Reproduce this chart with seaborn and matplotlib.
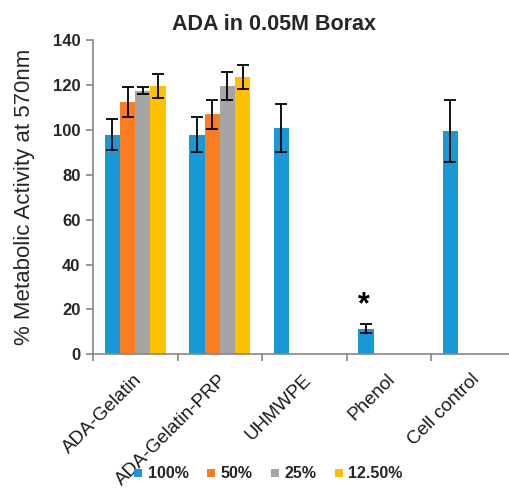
import numpy as np
import pandas as pd
import seaborn as sns
import matplotlib
matplotlib.use("Agg")
import matplotlib.pyplot as plt
from matplotlib.lines import Line2D
from matplotlib.transforms import ScaledTranslation

# Sample groups and dilution levels
categories = ["ADA-Gelatin", "ADA-Gelatin-PRP", "UHMWPE", "Phenol", "Cell control"]
levels = ["100%", "50%", "25%", "12.50%"]

# Mean metabolic activity (%) per dilution; None = not tested
act_100 = [98.0, 98.0, 101.0, 11.5, 99.5]
act_50 = [112.5, 107.0, None, None, None]
act_25 = [117.5, 119.5, None, None, None]
act_12 = [119.5, 123.5, None, None, None]

# Standard deviations
err_100 = [7.0, 8.0, 10.6, 2.0, 13.7]
err_50 = [6.5, 6.5, None, None, None]
err_25 = [1.5, 6.3, None, None, None]
err_12 = [5.3, 5.3, None, None, None]

# Significance marker (group, height)
star_group = "Phenol"
star_y = 22.0

colors = ["#1899D6", "#FA7D22", "#A5A5A5", "#FFC000"]

rows = []
for lvl, vals, errs in zip(levels, [act_100, act_50, act_25, act_12],
                           [err_100, err_50, err_25, err_12]):
    for cat, v, e in zip(categories, vals, errs):
        if v is not None:
            rows.append({"group": cat, "dilution": lvl, "activity": v, "sd": e})
df = pd.DataFrame(rows)

sns.set_theme(style="white")
plt.rcParams["font.family"] = ["Liberation Sans", "DejaVu Sans"]

fig = plt.figure(figsize=(5.09, 4.91), dpi=100)
ax = fig.add_axes([93 / 509, 1 - 354.3 / 491, 422.5 / 509, 314 / 491])

sns.barplot(data=df, x="group", y="activity", hue="dilution",
            order=categories, hue_order=levels, palette=colors,
            errorbar=None, width=0.72, gap=0, saturation=1,
            linewidth=0, dodge=True, legend=False, ax=ax)

# Error bars at each drawn bar
sd_lookup = {(r.group, r.dilution): r.sd for r in df.itertuples()}
for lvl, cont in zip(levels, ax.containers):
    for bar in cont:
        h = bar.get_height()
        if not np.isfinite(h):
            continue
        xc = bar.get_x() + bar.get_width() / 2
        cat = categories[int(round(xc))]
        e = sd_lookup.get((cat, lvl))
        if e is None:
            continue
        ax.errorbar(xc, h, yerr=e, fmt="none", ecolor="black",
                    elinewidth=1.3, capsize=4.2, capthick=1.3, zorder=5)

# Asterisk over the phenol bar
star_x = None
for bar in ax.containers[0]:
    xc = bar.get_x() + bar.get_width() / 2
    if categories[int(round(xc))] == star_group:
        star_x = xc
ax.text(star_x - 0.02, star_y, "*", ha="center", va="center", fontsize=22,
        fontweight="bold", color="black")

ax.set_xlim(-0.5, len(categories) - 0.5)
ax.set_ylim(0, 140)
ax.set_yticks(np.arange(0, 141, 20))

spine_c = "#868686"
for s in ["top", "right"]:
    ax.spines[s].set_visible(False)
for s in ["left", "bottom"]:
    ax.spines[s].set_color(spine_c)
    ax.spines[s].set_linewidth(1.2)

ax.tick_params(axis="y", which="major", left=True, length=5, width=1.2,
               color=spine_c, labelsize=12, pad=4)
for lab in ax.get_yticklabels():
    lab.set_fontweight("bold")

# Category ticks sit on the group boundaries
ax.set_xticks(np.arange(len(categories)))
ax.set_xticks(np.arange(-0.5, len(categories), 1.0), minor=True)
ax.tick_params(axis="x", which="major", bottom=False, length=0, pad=12)
ax.tick_params(axis="x", which="minor", bottom=True, length=5, width=1.2,
               color=spine_c)
ax.set_xticklabels(categories, rotation=45, ha="right", va="top",
                   rotation_mode="anchor", fontsize=13.5, color="#1a1a1a")
for lab in ax.get_xticklabels():
    lab.set_transform(lab.get_transform() + ScaledTranslation(-2 / 100, 0, fig.dpi_scale_trans))

ax.set_xlabel("")
ax.set_ylabel("% Metabolic Activity at 570nm", fontsize=16, labelpad=13)
fig.text(273.5 / 509, 1 - 25 / 491, "ADA in 0.05M Borax", ha="center", va="center",
         fontsize=15.5, fontweight="bold")

handles = [Line2D([], [], marker="s", linestyle="none", markersize=6,
                  markerfacecolor=c, markeredgewidth=0) for c in colors]
fig.legend(handles, levels, loc="center", bbox_to_anchor=(268 / 509, 1 - 474 / 491),
           ncol=4, frameon=False, handlelength=0.6, handletextpad=0.3,
           columnspacing=1.1, prop={"size": 11.5, "weight": "bold"})

fig.savefig("out.png", dpi=100)
